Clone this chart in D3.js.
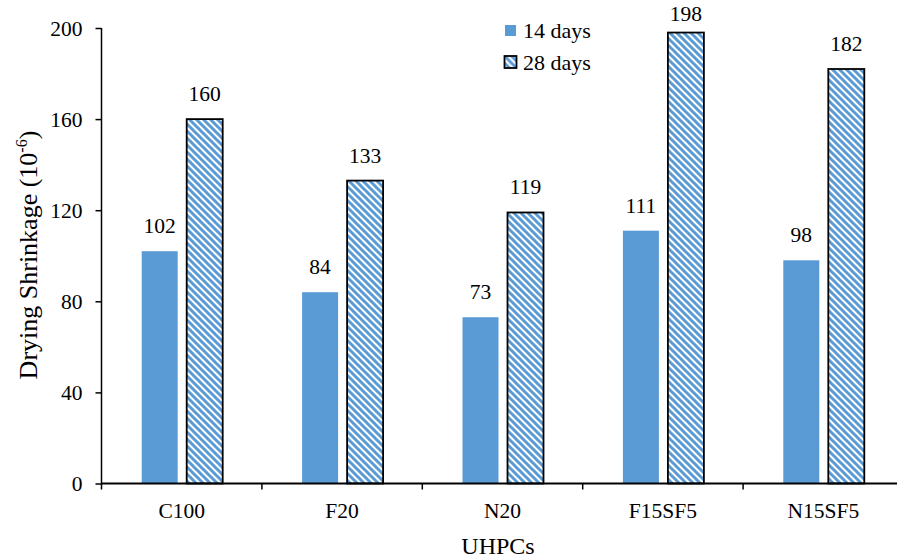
<!DOCTYPE html>
<html>
<head>
<meta charset="utf-8">
<script src="https://cdn.jsdelivr.net/npm/d3@7"></script>
<style>
  html, body { margin: 0; padding: 0; background: #fff; }
  svg { display: block; font-family: "Liberation Serif", "Times New Roman", serif; }
</style>
</head>
<body>
<svg id="chart" width="897" height="560"></svg>
<script>
// Drying shrinkage of UHPC mixes at 14 and 28 days
const categories = ["C100", "F20", "N20", "F15SF5", "N15SF5"];
const days14 = [102, 84, 73, 111, 98];
const days28 = [160, 133, 119, 198, 182];
const seriesNames = ["14 days", "28 days"];
const yTicks = [0, 40, 80, 120, 160, 200];

const svg = d3.select("#chart");
const blue = "#5B9BD5";

const defs = svg.append("defs");
const pat = defs.append("pattern")
  .attr("id", "hatch")
  .attr("patternUnits", "userSpaceOnUse")
  .attr("width", 7).attr("height", 7);
pat.append("rect").attr("width", 7).attr("height", 7).attr("fill", "#fff");
pat.append("path")
  .attr("d", "M-1,-1 L8,8 M-4.5,2.5 L1,8 M2.5,-4.5 L8,1")
  .attr("stroke", blue).attr("stroke-width", 3);

const x0 = d3.scaleBand().domain(categories).range([101.5, 903.5]).paddingInner(0).paddingOuter(0);
const y = d3.scaleLinear().domain([0, 200]).range([483.5, 28]);

const barW = 36, gap = 9;
const offsets = [x0.bandwidth() / 2 - gap / 2 - barW, x0.bandwidth() / 2 + gap / 2];

const rows = categories.map((c, i) => ({ c, v: [days14[i], days28[i]] }));

// bars
const g = svg.append("g");
rows.forEach(r => {
  // 14 days: solid
  g.append("rect")
    .attr("x", x0(r.c) + offsets[0] + 0.5)
    .attr("y", y(r.v[0]))
    .attr("width", barW)
    .attr("height", y(0) - y(r.v[0]))
    .attr("fill", blue);
  // 28 days: hatched with outline
  g.append("rect")
    .attr("x", x0(r.c) + offsets[1] + 0.5)
    .attr("y", y(r.v[1]))
    .attr("width", barW)
    .attr("height", y(0) - y(r.v[1]))
    .attr("fill", "url(#hatch)")
    .attr("stroke", "#000").attr("stroke-width", 1.8);
  // value labels (kept inside the top of the chart)
  r.v.forEach((v, k) => {
    g.append("text")
      .attr("x", x0(r.c) + offsets[k] + 0.5 + barW / 2)
      .attr("y", Math.max(y(v) - 18, 21))
      .attr("text-anchor", "middle")
      .attr("font-size", 21.5)
      .text(v);
  });
});

// y axis
const yAxis = d3.axisLeft(y).tickValues(yTicks).tickSize(6).tickSizeOuter(0);
const ya = svg.append("g").attr("transform", "translate(101.5,0)").call(yAxis);
ya.select(".domain").attr("stroke", "#000").attr("stroke-width", 1.5).attr("d", `M0,${y(200)}V${y(0)+6}`);
ya.selectAll(".tick line").attr("stroke", "#000").attr("stroke-width", 1.5);
ya.selectAll(".tick text").attr("font-family", "Liberation Serif").attr("font-size", 21.5)
  .attr("fill", "#000").attr("x", -19).attr("dy", "0.34em");

// x axis
const xAxis = d3.axisBottom(x0).tickSize(0).tickSizeOuter(0);
const xa = svg.append("g").attr("transform", `translate(0,${y(0)})`).call(xAxis);
xa.select(".domain").attr("stroke", "#000").attr("stroke-width", 2).attr("d", "M101.5,0H897");
xa.selectAll(".tick text").attr("font-family", "Liberation Serif").attr("font-size", 21.5)
  .attr("fill", "#000").attr("y", 19).attr("dy", "0.71em");
// category boundary ticks
const bounds = categories.slice(1).map(c => x0(c));
xa.selectAll(".bound").data(bounds).enter().append("line")
  .attr("x1", d => d).attr("x2", d => d).attr("y1", 0).attr("y2", 6)
  .attr("stroke", "#000").attr("stroke-width", 1.5);

// axis titles
svg.append("text")
  .attr("x", 498).attr("y", 554)
  .attr("text-anchor", "middle").attr("font-size", 24)
  .text("UHPCs");

const yt = svg.append("text")
  .attr("transform", "translate(37,255) rotate(-90)")
  .attr("text-anchor", "middle").attr("font-size", 26);
yt.append("tspan").text("Drying Shrinkage (10");
yt.append("tspan").attr("font-size", 16).attr("dy", -10).text("-6");
yt.append("tspan").attr("dy", 10).text(")");

// legend
const leg = svg.append("g").attr("transform", "translate(505,25)");
seriesNames.forEach((name, i) => {
  const row = leg.append("g").attr("transform", `translate(0,${i * 31.5})`);
  row.append("rect")
    .attr("x", i ? -0.5 : 0).attr("y", i ? -0.5 : 0)
    .attr("width", i ? 12 : 11).attr("height", i ? 12 : 11)
    .attr("fill", i ? "url(#hatch)" : blue)
    .attr("stroke", i ? "#000" : "none").attr("stroke-width", 1.8);
  row.append("text")
    .attr("x", 18).attr("y", 13)
    .attr("font-size", 22)
    .text(name);
});
</script>
</body>
</html>
